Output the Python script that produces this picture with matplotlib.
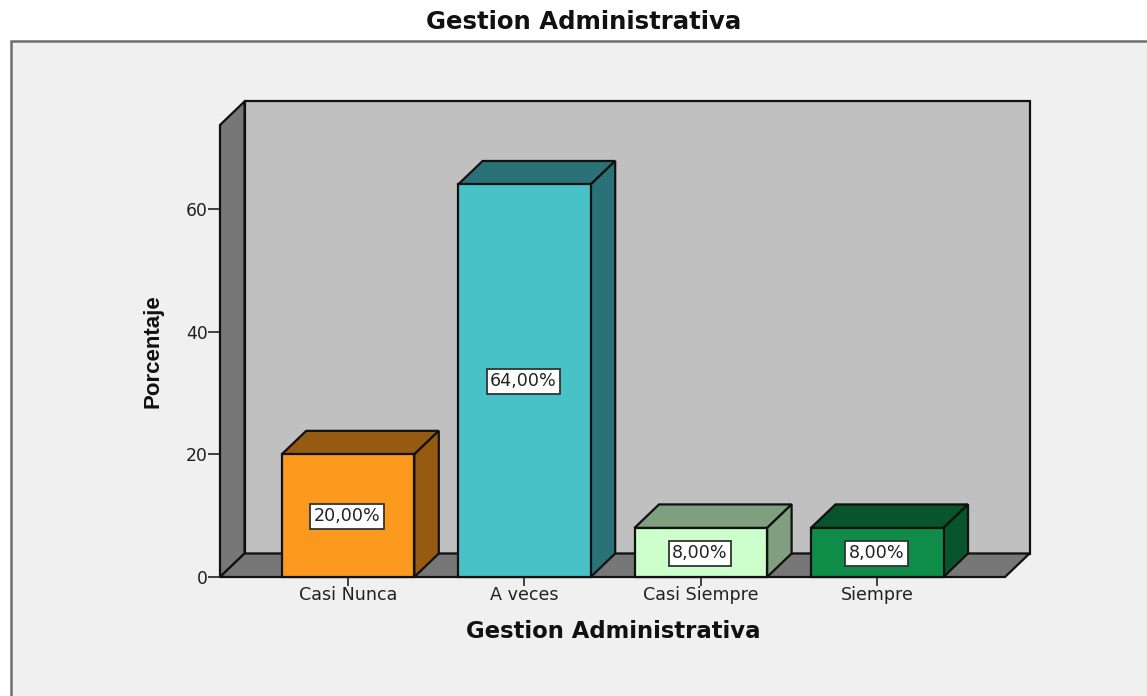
import matplotlib
matplotlib.use("Agg")
import matplotlib.pyplot as plt
from matplotlib.patches import Polygon, Rectangle

categories = ["Casi Nunca", "A veces", "Casi Siempre", "Siempre"]
values = [20, 64, 8, 8]
labels = ["20,00%", "64,00%", "8,00%", "8,00%"]
front_colors = ["#FB991E", "#48C2C7", "#CCFFCC", "#0F8C48"]
side_colors = ["#965A10", "#2A7278", "#7F9F7F", "#08552B"]
yticks = [0, 20, 40, 60]
title = "Gestion Administrativa"
xlabel = "Gestion Administrativa"
ylabel = "Porcentaje"

W, H = 1147, 696
plt.rcParams["font.family"] = ["DejaVu Sans"]
fig = plt.figure(figsize=(W / 100, H / 100), dpi=100, facecolor="white")

# outer frame
fig.add_artist(Rectangle((10.5 / W, -0.01), 1.1, 1.01 - 40.5 / H, transform=fig.transFigure,
                         fc="#F0F0F0", ec="#6E6E6E", lw=1.8, zorder=-5))
fig.text(583.5 / W, 1 - 22 / H, title, ha="center", va="center", fontsize=17.6,
         fontweight="bold", color="#111111")

# plot region: floor front edge from x=220 to x=1005, y=0 at pixel 577
left, right, bottom, top = 220, 1005, 577, 125
ax = fig.add_axes([left / W, 1 - bottom / H, (right - left) / W, (bottom - top) / H])
px_per_cat = 176.4
ax.set_xlim((left - 348) / px_per_cat, (right - 348) / px_per_cat)
ax.set_ylim(0, (bottom - top) / 6.133)
ax.patch.set_visible(False)
for s in ax.spines.values():
    s.set_visible(False)

dx, dy = 24.5 / px_per_cat, 23.5 / 6.133   # depth in data units
x0, x1 = ax.get_xlim()
y1 = ax.get_ylim()[1]
edge = "#111111"
lw = 1.6


def poly(pts, fc, z):
    ax.add_patch(Polygon(pts, closed=True, fc=fc, ec=edge, lw=lw, zorder=z,
                         clip_on=False, joinstyle="miter"))


# 3D walls
poly([(x0 + dx, dy), (x1 + dx, dy), (x1 + dx, y1 + dy), (x0 + dx, y1 + dy)], "#C0C0C0", 1)
poly([(x0, 0), (x0 + dx, dy), (x0 + dx, y1 + dy), (x0, y1)], "#777777", 2)
poly([(x0, 0), (x1, 0), (x1 + dx, dy), (x0 + dx, dy)], "#777777", 2)

# 3D bars
half = 66.3 / px_per_cat
for i, v in enumerate(values):
    a, b = i - half, i + half
    poly([(a, v), (b, v), (b + dx, v + dy), (a + dx, v + dy)], side_colors[i], 3)
    poly([(b, 0), (b + dx, dy), (b + dx, v + dy), (b, v)], side_colors[i], 3)
    poly([(a, 0), (b, 0), (b, v), (a, v)], front_colors[i], 4)
    ax.text(i - 0.005, v / 2 - 0.1, labels[i], ha="center", va="center", fontsize=12.6,
            color="#222222", zorder=5,
            bbox=dict(boxstyle="square,pad=0.2", fc="white", ec="#333333", lw=1.3))

ax.set_xticks(range(len(categories)), categories)
ax.set_yticks(yticks)
ax.tick_params(axis="x", length=6.5, width=1.3, color="#333333", labelsize=12.6,
               labelcolor="#222222", pad=0)
ax.tick_params(axis="y", length=9, width=1.3, color="#333333", labelsize=12.4,
               labelcolor="#222222", pad=0)

fig.text(613.5 / W, 1 - 631 / H, xlabel, ha="center", va="center", fontsize=16.4,
         fontweight="bold", color="#111111")
fig.text(153 / W, 1 - 351 / H, ylabel, ha="center", va="center", rotation=90,
         fontsize=16, fontweight="bold", color="#111111",
         family=["Liberation Sans Narrow", "Liberation Sans"])

fig.savefig("out.png", dpi=100, facecolor="white")
